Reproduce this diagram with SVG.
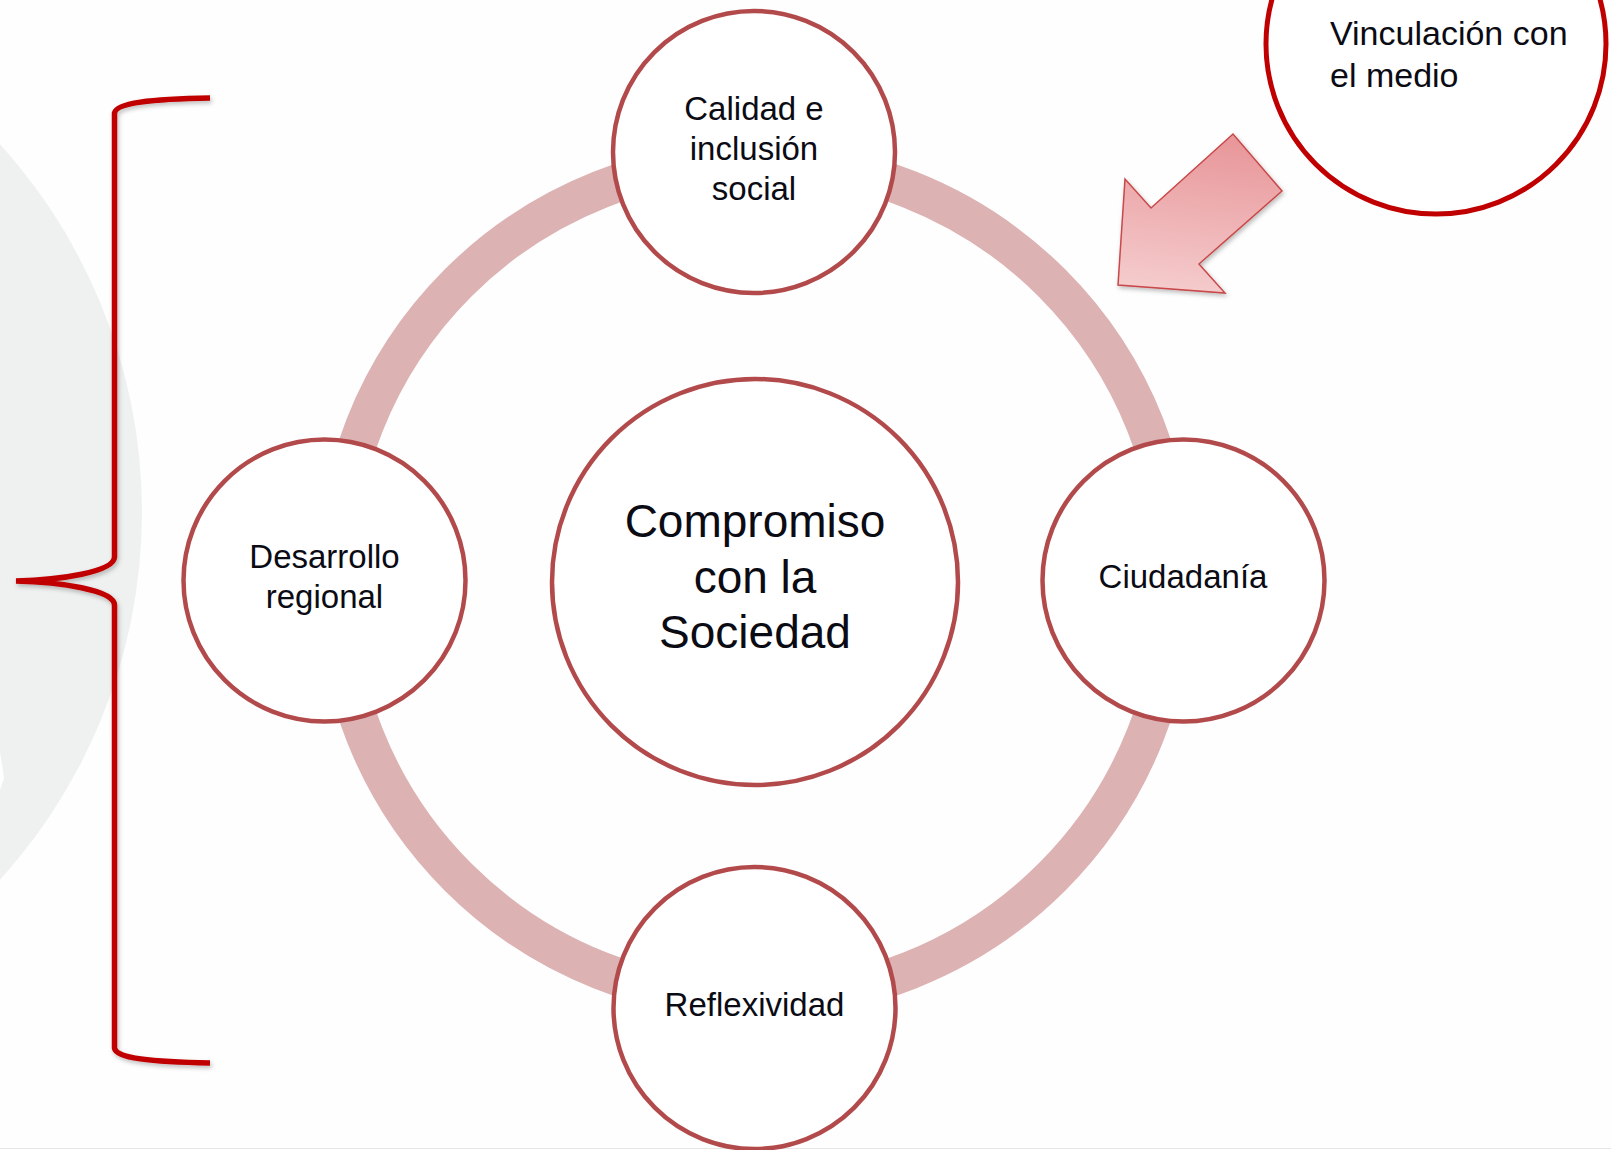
<svg xmlns="http://www.w3.org/2000/svg" width="1611" height="1150" viewBox="0 0 1611 1150">
  <defs>
    <style>
      .node { fill: #ffffff; stroke: #b24a4b; stroke-width: 4.5; }
      .lbl { font-family: "Liberation Sans", Arial, sans-serif; font-size: 33px; fill: #0b0b14; text-anchor: middle; }
      .big { font-family: "Liberation Sans", Arial, sans-serif; font-size: 46px; fill: #0b0b14; text-anchor: middle; }
      .vin { font-family: "Liberation Sans", Arial, sans-serif; font-size: 34px; fill: #0b0b14; }
    </style>
    <linearGradient id="arrowGrad" x1="1190" y1="135" x2="1170" y2="295" gradientUnits="userSpaceOnUse">
      <stop offset="0" stop-color="#e8979a"/>
      <stop offset="1" stop-color="#f5cdce"/>
    </linearGradient>
    <filter id="shadow" x="-20%" y="-20%" width="140%" height="140%">
      <feDropShadow dx="1.5" dy="2.5" stdDeviation="2" flood-color="#000000" flood-opacity="0.25"/>
    </filter>
  </defs>

  <rect x="0" y="0" width="1611" height="1150" fill="#fefefe"/>
  <circle cx="-405" cy="512" r="547" fill="#eff1f1"/>
  <polygon points="0,752 4,778 0,790" fill="#ffffff"/>
  <line x1="0" y1="1148.5" x2="1611" y2="1148.5" stroke="#e6e6e6" stroke-width="1"/>

  <g id="brace" filter="url(#shadow)">
    <path d="M210,98 C150,99 116,103 114.5,113 L114.5,557 C114,572 60,580 16,581 C60,582 114,590 114.5,605 L114.5,1048 C116,1058 150,1062 210,1063" fill="none" stroke="#c00000" stroke-width="5.5" stroke-linecap="butt"/>
  </g>

  <g id="connectors">
    <circle id="ring" cx="755" cy="580" r="420" fill="none" stroke="#ddb2b3" stroke-width="38"/>
    <polygon id="arrow" points="1118,285 1125,179 1151,208 1233,134 1282,191 1199,264 1225,293" fill="url(#arrowGrad)" stroke="#c8484a" stroke-width="1.5" stroke-linejoin="miter" filter="url(#shadow)"/>
  </g>

  <g id="node-vinculacion">
    <circle cx="1436" cy="44" r="170" fill="#ffffff" stroke="#c00000" stroke-width="5"/>
    <text class="vin" x="1330" y="45">Vinculación con</text>
    <text class="vin" x="1330" y="87">el medio</text>
  </g>

  <g id="node-calidad">
    <circle class="node" cx="754" cy="152" r="141"/>
    <text class="lbl" x="754" y="120">Calidad e</text>
    <text class="lbl" x="754" y="160">inclusión</text>
    <text class="lbl" x="754" y="200">social</text>
  </g>

  <g id="node-desarrollo">
    <circle class="node" cx="324.5" cy="580.5" r="141"/>
    <text class="lbl" x="324.5" y="568">Desarrollo</text>
    <text class="lbl" x="324.5" y="608">regional</text>
  </g>

  <g id="node-ciudadania">
    <circle class="node" cx="1183.5" cy="580.5" r="141"/>
    <text class="lbl" x="1183" y="588">Ciudadanía</text>
  </g>

  <g id="node-reflexividad">
    <circle class="node" cx="754.5" cy="1008" r="141"/>
    <text class="lbl" x="754.5" y="1016">Reflexividad</text>
  </g>

  <g id="node-compromiso">
    <circle class="node" cx="755" cy="582" r="203"/>
    <text class="big" x="755" y="537">Compromiso</text>
    <text class="big" x="755" y="593">con la</text>
    <text class="big" x="755" y="648">Sociedad</text>
  </g>
</svg>
